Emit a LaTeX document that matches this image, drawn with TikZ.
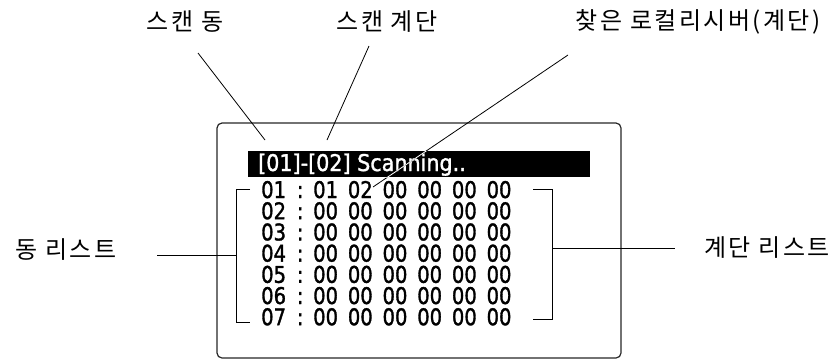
\documentclass[tikz,border=0pt]{standalone}
\usepackage{fontspec}
\newfontfamily\krfont[LetterSpace=10]{Noto Sans CJK KR}
\newfontfamily\lcdfont[FakeStretch=0.85, FakeBold=1.4, WordSpace=1.58]{DejaVu Sans}
\newfontfamily\barfont[FakeStretch=0.9, FakeBold=1.4]{DejaVu Sans}
\tikzset{
  callout/.style={font=\krfont\fontsize{24}{28}\selectfont, inner sep=0pt},
  leader/.style={line width=0.8pt},
  rowtext/.style={font=\lcdfont\fontsize{23}{23}\selectfont, inner sep=0pt, anchor=base west},
}
\begin{document}
\begin{tikzpicture}[x=1pt, y=-1pt]
\useasboundingbox (0,0) rectangle (839,362);

% labels
\node[callout] (scandong) at (185,22) {스캔 동};
\node[callout] (scangyedan) at (387,22) {스캔 계단};
\node[callout] (found) at (698,22) {찾은 로컬리시버(계단)};
\node[callout] (donglist) at (66,250) {동 리스트};
\node[callout] (gyedanlist) at (767,248) {계단 리스트};

% screen
\draw[rounded corners=5pt, line width=1.2pt, draw=black!85] (217,123) rectangle (621,358);
\fill (248,151) rectangle (590,177);
\node[rowtext, text=white, font=\barfont\fontsize{23}{23}\selectfont] (status) at (258,171) {[01]-[02] Scanning..};

\foreach \i/\vals in {1/{01 02 00 00 00 00}, 2/{00 00 00 00 00 00}, 3/{00 00 00 00 00 00},
  4/{00 00 00 00 00 00}, 5/{00 00 00 00 00 00}, 6/{00 00 00 00 00 00}, 7/{00 00 00 00 00 00}} {
  \node[rowtext] (id\i) at (261,{198+21.2*(\i-1)}) {0\i{} \kern1pt:};
  \node[rowtext] (data\i) at (313,{198+21.2*(\i-1)}) {\vals};
}

% brackets
\draw[leader] (250,189) -- (236,189) -- (236,322) -- (250,322);
\draw[leader] (533,189) -- (552,189) -- (552,319) -- (533,319);

% leader lines
\coordinate (scandongtop) at (198,53);
\coordinate (scandongend) at (265,140);
\coordinate (scangyedantop) at (369,46);
\coordinate (scangyedanend) at (327,140);
\coordinate (foundtop) at (568,55);
\coordinate (foundend) at (373,187);
\coordinate (donglistfrom) at (157,255);
\coordinate (donglistend) at (236,255);
\coordinate (gyedanlistfrom) at (552,248);
\coordinate (gyedanlistend) at (675,248);

\draw[leader] (scandongtop) -- (scandongend);
\draw[leader] (scangyedantop) -- (scangyedanend);
\draw[leader] (foundtop) -- (foundend);
\begin{scope}
\clip (248,151) rectangle (590,177);
\draw[leader, white] (foundtop) -- (foundend);
\end{scope}
\draw[leader] (donglistfrom) -- (donglistend);
\draw[leader] (gyedanlistfrom) -- (gyedanlistend);

\end{tikzpicture}
\end{document}
